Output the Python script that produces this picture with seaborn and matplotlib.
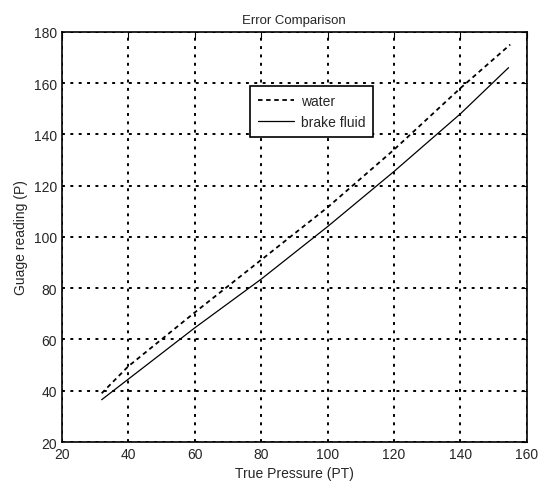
import matplotlib
matplotlib.use("Agg")
import matplotlib.pyplot as plt
import seaborn as sns
import pandas as pd

water_x = [32, 40, 60, 80, 100, 120, 140, 155]
water_y = [39, 49.5, 70.5, 91, 111.5, 134, 158, 175]
brake_x = [32, 40, 60, 80, 100, 120, 140, 154.5]
brake_y = [36.5, 44.5, 64.5, 83.5, 104, 125.5, 148, 166]
x_ticks = [20, 40, 60, 80, 100, 120, 140, 160]
y_ticks = [20, 40, 60, 80, 100, 120, 140, 160, 180]

sns.set_style("white")
plt.rcParams['font.family'] = ['Liberation Sans', 'DejaVu Sans']

fig = plt.figure(figsize=(5.42, 4.89), dpi=100)
ax = fig.add_axes([0.114, 0.094, 0.858, 0.839])

ax.grid(True, color='black', linestyle=(0, (1.5, 2.8)), linewidth=1.4)
ax.set_axisbelow(True)

dfw = pd.DataFrame({"x": water_x, "y": water_y})
dfb = pd.DataFrame({"x": brake_x, "y": brake_y})
sns.lineplot(data=dfw, x="x", y="y", ax=ax, color='black', linewidth=1.3,
             linestyle=(0, (2.5, 2)), label='water')
sns.lineplot(data=dfb, x="x", y="y", ax=ax, color='black', linewidth=0.9,
             label='brake fluid')

ax.set_xlim(20, 160)
ax.set_ylim(20, 180)
ax.set_xticks(x_ticks)
ax.set_yticks(y_ticks)
ax.tick_params(direction='in', labelsize=10, length=4, color='black',
               top=True, right=True)
for s in ax.spines.values():
    s.set_color('black')
    s.set_linewidth(1.2)

ax.set_xlabel("True Pressure (PT)", fontsize=10)
ax.set_ylabel("Guage reading (P)", fontsize=10)
ax.set_title("Error Comparison", fontsize=9.5)

leg = ax.legend(loc='upper left', bbox_to_anchor=(0.39, 0.885), fancybox=False,
                edgecolor='black', framealpha=1, fontsize=10, handlelength=2.6,
                borderpad=0.55, labelspacing=0.55, handletextpad=0.5)
leg.get_frame().set_linewidth(1.2)

fig.savefig("out.png", dpi=100)
